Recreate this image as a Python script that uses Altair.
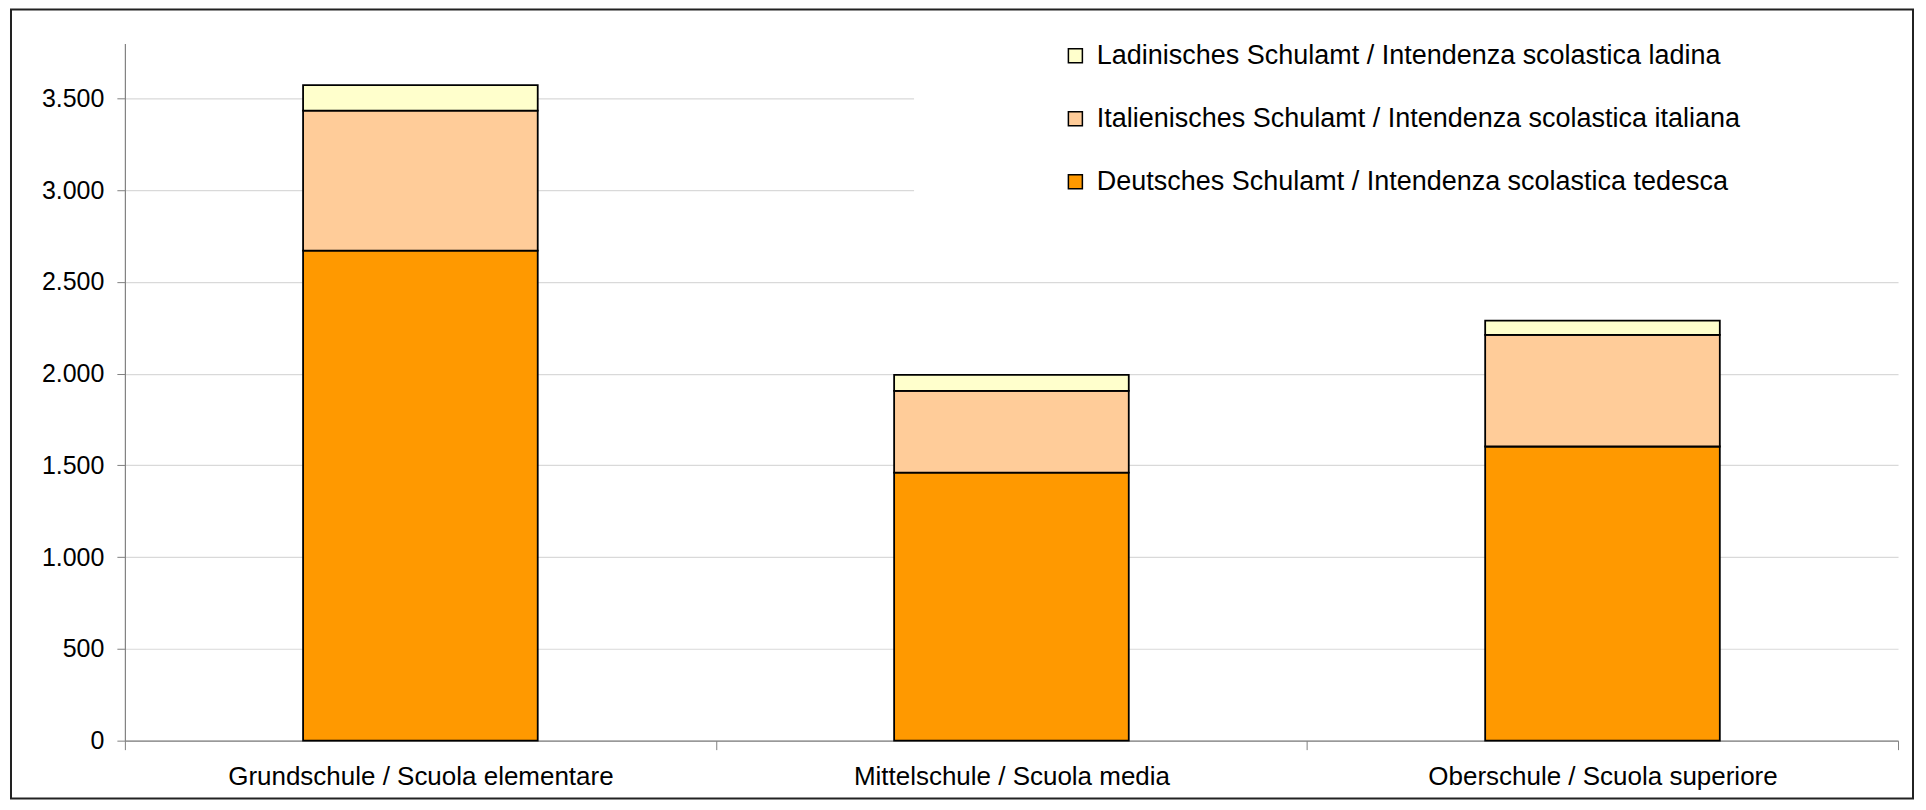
import altair as alt
import pandas as pd

categories = [
    "Grundschule / Scuola elementare",
    "Mittelschule / Scuola media",
    "Oberschule / Scuola superiore",
]
series_names = [
    "Deutsches Schulamt / Intendenza scolastica tedesca",
    "Italienisches Schulamt / Intendenza scolastica italiana",
    "Ladinisches Schulamt / Intendenza scolastica ladina",
]
german = [2670, 1461, 1603]
italian = [763, 445, 608]
ladin = [140, 87, 78]
series_colors = ["#FF9900", "#FFCC99", "#FFFFCC"]
y_ticks = [0, 500, 1000, 1500, 2000, 2500, 3000, 3500]

rows = []
for s_idx, (name, vals) in enumerate(zip(series_names, [german, italian, ladin])):
    for cat, v in zip(categories, vals):
        rows.append({"category": cat, "series": name, "value": v, "ord": s_idx})
df = pd.DataFrame(rows)

FONT = "Liberation Sans, Arial, sans-serif"

bars = alt.Chart(df).mark_bar(
    width={"band": 0.397}, stroke="black", strokeWidth=1.8
).encode(
    x=alt.X(
        "category:N",
        sort=categories,
        scale=alt.Scale(paddingInner=0, paddingOuter=0),
        axis=alt.Axis(
            title=None,
            labelAngle=0,
            tickBand="extent",
            tickSize=9,
            tickColor="#808080",
            domainColor="#808080",
            domainWidth=1.2,
            labelFontSize=26,
            labelColor="black",
            labelPadding=14,
            labelFont=FONT,
            labelLimit=0,
            grid=False,
        ),
    ),
    y=alt.Y(
        "value:Q",
        stack="zero",
        scale=alt.Scale(domain=[0, 3800], nice=False),
        axis=alt.Axis(
            title=None,
            values=y_ticks,
            labelExpr="replace(format(datum.value, ','), ',', '.')",
            tickSize=8,
            tickColor="#808080",
            domainColor="#808080",
            domainWidth=1.2,
            labelFontSize=25,
            labelColor="black",
            labelPadding=13,
            labelFont=FONT,
            grid=True,
            gridColor="#d9d9d9",
            gridWidth=1.2,
        ),
    ),
    color=alt.Color(
        "series:N",
        scale=alt.Scale(
            domain=[series_names[2], series_names[1], series_names[0]],
            range=[series_colors[2], series_colors[1], series_colors[0]],
        ),
        legend=alt.Legend(
            title=None,
            orient="none",
            legendX=938,
            legendY=-1,
            symbolType="square",
            symbolSize=196,
            symbolStrokeColor="black",
            symbolStrokeWidth=1.5,
            labelFontSize=27,
            labelFont=FONT,
            labelColor="black",
            labelOffset=8,
            labelLimit=0,
            rowPadding=35,
            padding=0,
        ),
    ),
    order=alt.Order("ord:Q", sort="ascending"),
)

# white legend box hiding the gridlines behind the legend
legend_box = alt.Chart(pd.DataFrame({"a": [0]})).mark_rect(
    fill="white", stroke="white", strokeWidth=0
).encode(
    x=alt.value(790), x2=alt.value(1776), y=alt.value(0), y2=alt.value(172)
)

frame = alt.Chart(pd.DataFrame({"a": [0]})).mark_rect(
    filled=False, stroke="#222222", strokeWidth=2
).encode(
    x=alt.value(-114), x2=alt.value(1790), y=alt.value(-34), y2=alt.value(756)
)

chart = (
    alt.layer(frame, legend_box, bars)
    .properties(
        width=1775,
        height=698,
        autosize=alt.AutoSizeParams(type="none"),
        padding={"left": 117, "top": 35, "right": 20, "bottom": 59},
    )
    .configure(font=FONT, background="white")
    .configure_view(strokeWidth=0, stroke="transparent")
)

chart.save("out.html", embed_options={"renderer": "svg", "actions": False})
